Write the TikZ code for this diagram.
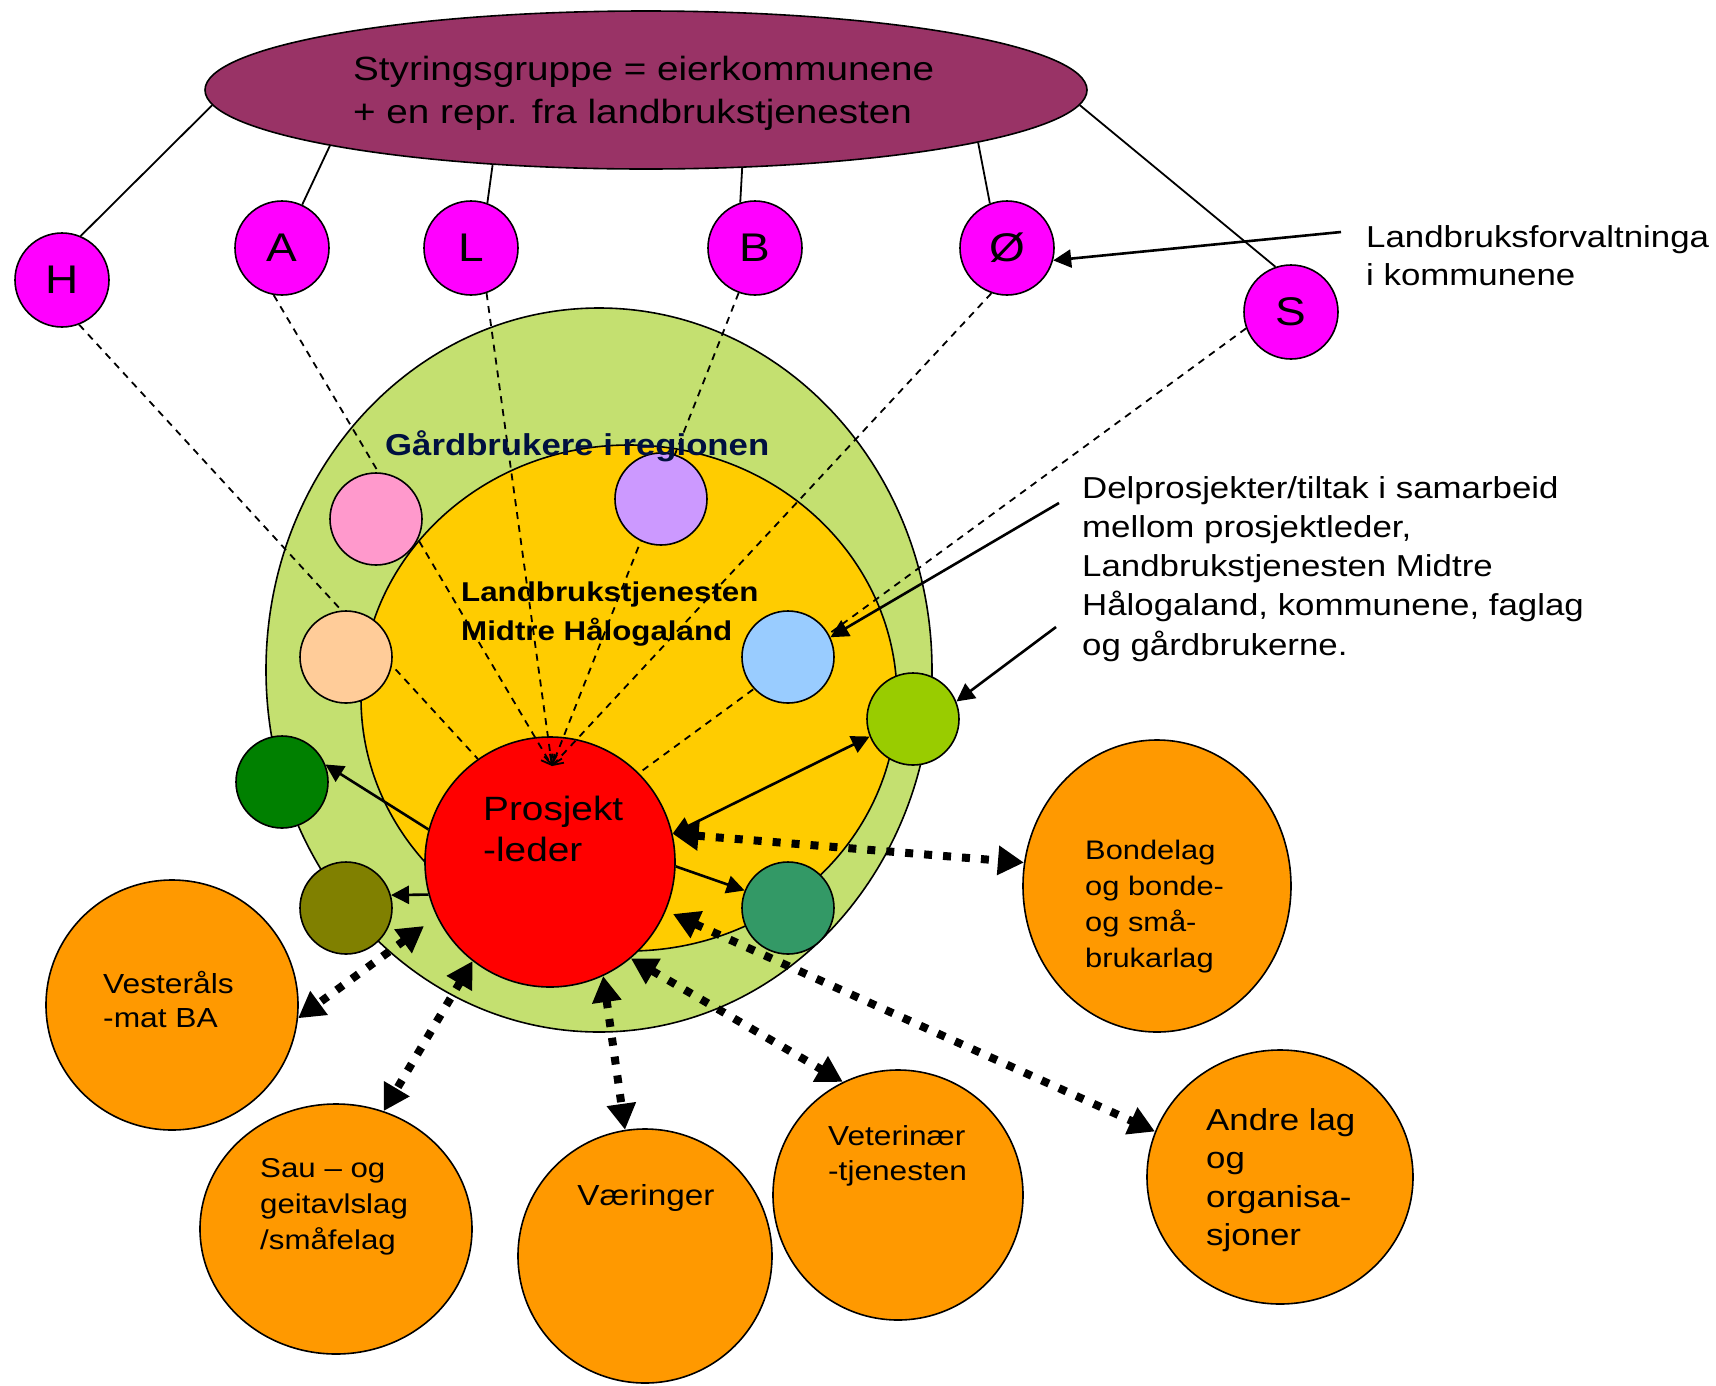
\documentclass[tikz,border=0pt]{standalone}
\usepackage{fontspec}
\setmainfont{Liberation Sans}[FakeStretch=1.15]
\usetikzlibrary{shapes.geometric,arrows.meta}
\definecolor{sgpurple}{HTML}{993366}
\definecolor{mag}{HTML}{FF00FF}
\definecolor{lgreen}{HTML}{C4E070}
\definecolor{lyellow}{HTML}{FFCC00}
\definecolor{cpink}{HTML}{FF99CC}
\definecolor{clilac}{HTML}{CC99FF}
\definecolor{cpeach}{HTML}{FFCC99}
\definecolor{cblue}{HTML}{99CCFF}
\definecolor{cygreen}{HTML}{99CC00}
\definecolor{cdgreen}{HTML}{008000}
\definecolor{colive}{HTML}{808000}
\definecolor{csgreen}{HTML}{339966}
\definecolor{cred}{HTML}{FF0000}
\definecolor{corange}{HTML}{FF9900}
\definecolor{gardtext}{HTML}{001040}
\newcommand\stk[1]{\vtop{\halign{##\hfil\cr#1\crcr}}}
\begin{document}
\begin{tikzpicture}[x=1pt,y=-1pt,
  circ/.style={circle, draw=black, line width=1.6pt, inner sep=0pt},
  ell/.style={ellipse, draw=black, line width=1.6pt, inner sep=0pt},
  conn/.style={line width=1.8pt},
  dline/.style={line width=1.8pt, dash pattern=on 7pt off 6pt},
  barb/.style={-{Straight Barb[length=9pt 0 0,width=13pt 0 0]}},
  thinarr/.style={line width=2.6pt, -{Triangle[length=18pt 0 0,width=18pt 0 0]}},
  thinboth/.style={line width=2.6pt, {Triangle[length=18pt 0 0,width=18pt 0 0]}-{Triangle[length=18pt 0 0,width=18pt 0 0]}},
  dotarr/.style={line width=8pt, dash pattern=on 8pt off 11pt,
    {Triangle[length=26pt 0 0,width=28pt 0 0]}-{Triangle[length=26pt 0 0,width=28pt 0 0]}},
  txt/.style={inner sep=0pt, anchor=base west},
  letter/.style={circ, fill=mag, minimum size=94pt, font=\fontsize{40}{44}\selectfont},
  small/.style={circ, minimum size=92pt},
  org/.style={ell, fill=corange}]
\useasboundingbox (0,0) rectangle (1716,1385);

% steering group
\node[ell, fill=sgpurple, minimum width=882pt, minimum height=158pt] (sg) at (646,90) {};
\node[txt, font=\fontsize{33.6}{43}\selectfont] (sgt) at (353,80)
  {\stk{Styringsgruppe = eierkommunene\cr + en repr. fra landbrukstjenesten}};

% municipalities
\node[letter] (H) at (62,280) {H};
\node[letter] (A) at (282,248) {A};
\node[letter] (L) at (471,248) {L};
\node[letter] (B) at (755,248) {B};
\node[letter] (O) at (1007,248) {Ø};
\node[letter] (S) at (1291,312) {S};

\draw[conn] (sg.182) -- (H.67);
\draw[conn] (sg.190) -- (A.65);
\draw[conn] (sg.206) -- (L.70);
\draw[conn] (sg.-39) -- (B.108);
\draw[conn] (sg.-9) -- (O.111);
\draw[conn] (sg.-2.4) -- (S.109);

% regions
\node[ell, fill=lgreen, minimum width=666pt, minimum height=724pt] (farm) at (599,670) {};
\node[ell, fill=lyellow, minimum width=536pt, minimum height=506pt] (ltj) at (629,698) {};
\node[circ, fill=cred, minimum size=250pt] (pl) at (550,862) {};

% dashed links
\coordinate (conv) at (552,766);
\draw[dline] (H.-69) -- (pl.125);
\draw[dline,barb] (A.-100) -- (conv);
\draw[dline,barb] (L.-71) -- (conv);
\draw[dline,barb] (B.-110) -- (conv);
\draw[dline,barb] (O.-109) -- (conv);
\draw[dline] (S.-160) -- (pl.45);

% small circles
\node[small, fill=cpink] (pink) at (376,519) {};
\node[small, fill=clilac] (lilac) at (661,499) {};
\node[small, fill=cpeach] (peach) at (346,657) {};
\node[small, fill=cblue] (blue) at (788,657) {};
\node[small, fill=cygreen] (ygreen) at (913,719) {};
\node[small, fill=cdgreen] (dgreen) at (282,782) {};
\node[small, fill=colive] (olive) at (346,908) {};
\node[small, fill=csgreen] (sgreen) at (788,908) {};

% texts in regions
\node[txt, font=\bfseries\fontsize{30.2}{36}\selectfont, text=gardtext] (gard) at (385,455) {Gårdbrukere i regionen};
\node[txt, font=\bfseries\fontsize{27.2}{39}\selectfont] (ltt) at (461,601)
  {\stk{Landbrukstjenesten\cr Midtre Hålogaland}};
\node[txt, font=\fontsize{33.7}{41}\selectfont] (plt) at (483,820) {\stk{Prosjekt\cr -leder}};

% organisations
\node[org, minimum width=268pt, minimum height=292pt] (bon) at (1157,886) {};
\node[org, minimum width=252pt, minimum height=250pt] (vest) at (172,1005) {};
\node[org, minimum width=272pt, minimum height=250pt] (sau) at (336,1229) {};
\node[org, minimum width=254pt, minimum height=254pt] (vaer) at (645,1256) {};
\node[org, minimum width=250pt, minimum height=250pt] (vet) at (898,1195) {};
\node[org, minimum width=266pt, minimum height=254pt] (andre) at (1280,1177) {};

\node[txt, font=\fontsize{26.8}{36}\selectfont] (bont) at (1085,859)
  {\stk{Bondelag\cr og bonde-\cr og små-\cr brukarlag}};
\node[txt, font=\fontsize{27.6}{34}\selectfont] (vestt) at (103,993) {\stk{Vesteråls\cr -mat BA}};
\node[txt, font=\fontsize{27.2}{36}\selectfont] (saut) at (260,1177)
  {\stk{Sau – og\cr geitavlslag\cr /småfelag}};
\node[inner sep=0pt, anchor=base, font=\fontsize{29}{34}\selectfont] (vaert) at (646,1205) {Væringer};
\node[txt, font=\fontsize{27.5}{35}\selectfont] (vett) at (828,1145) {\stk{Veterinær\cr -tjenesten}};
\node[txt, font=\fontsize{30.3}{38.5}\selectfont] (andt) at (1206,1130)
  {\stk{Andre lag\cr og\cr organisa-\cr sjoner}};

% side notes
\node[txt, font=\fontsize{30.3}{38.5}\selectfont] (lft) at (1366,247)
  {\stk{Landbruksforvaltninga\cr i kommunene}};
\node[txt, font=\fontsize{30.3}{39.3}\selectfont] (dpt) at (1082,498)
  {\stk{Delprosjekter/tiltak i samarbeid\cr mellom prosjektleder,\cr Landbrukstjenesten Midtre\cr Hålogaland, kommunene, faglag\cr og gårdbrukerne.}};

% thin arrows
\coordinate (lfs) at (1341,232);
\coordinate (dp1) at (1059,503);
\coordinate (dp2) at (1056,627);
\draw[thinarr] (lfs) -- (O.-15);
\draw[thinarr] (dp1) -- (blue.25);
\draw[thinarr] (dp2) -- (ygreen.22);
\draw[thinarr] (pl.165) -- (dgreen.22);
\draw[thinboth] (pl.13) -- (ygreen.202);
\draw[thinarr] (pl.195) -- (olive.16);
\draw[thinarr] (pl.-2) -- (sgreen.158);

% thick dotted arrows
\coordinate (vesin) at (424,926);
\coordinate (andin) at (673,914);
\draw[dotarr] (pl.13) -- (bon.170);
\draw[dotarr] (vesin) -- (vest.-6);
\draw[dotarr] (pl.-128) -- (sau.68);
\draw[dotarr] (pl.-65) -- (vaer.99);
\draw[dotarr] (pl.-50) -- (vet.116);
\draw[dotarr] (andin) -- (andre.160);
\end{tikzpicture}
\end{document}
